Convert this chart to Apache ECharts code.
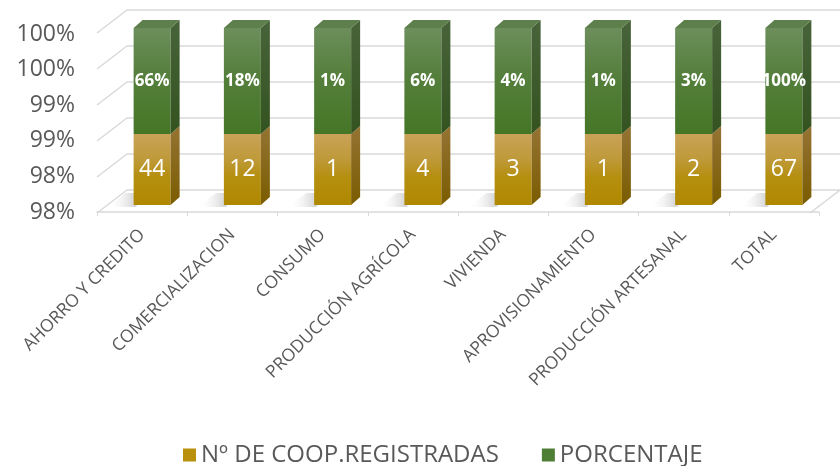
<!DOCTYPE html>
<html>
<head>
<meta charset="utf-8">
<script src="https://cdn.jsdelivr.net/npm/echarts@6/dist/echarts.min.js"></script>
<style>
html,body{margin:0;padding:0;background:#fff;}
#chart{width:840px;height:466px;}
</style>
</head>
<body>
<div id="chart"></div>
<script>
const categories = ['AHORRO Y CREDITO','COMERCIALIZACION','CONSUMO','PRODUCCIÓN AGRÍCOLA','VIVIENDA','APROVISIONAMIENTO','PRODUCCIÓN ARTESANAL','TOTAL'];
const coopCounts = [44, 12, 1, 4, 3, 1, 2, 67];
const percentValues = [65.67, 17.91, 1.49, 5.97, 4.48, 1.49, 2.99, 100];
const yTickValues = [0.98, 0.984, 0.988, 0.992, 0.996, 1.0];
const seriesNames = ['Nº DE COOP.REGISTRADAS', 'PORCENTAJE'];

const FONT = 'Open Sans';
const GRID_COLOR = '#d9d9d9';
const TEXT_COLOR = '#595959';
const BAR_W = 37, DX = 9, DY = -8;       // bar front width and 3D side depth
const WALL_DX = -30, WALL_DY = 23;        // back wall -> front plane offset

// share of each stack (100% stacked)
const goldData = categories.map((c, i) => [i, coopCounts[i] / (coopCounts[i] + percentValues[i]), coopCounts[i]]);
const greenData = categories.map((c, i) => [i, coopCounts[i] / (coopCounts[i] + percentValues[i]), Math.round(percentValues[i]) + '%']);

function vgrad(stops){
  return {type:'linear', x:0, y:0, x2:0, y2:1, colorStops: stops.map(s => ({offset:s[0], color:s[1]}))};
}
function hgrad(stops){
  return {type:'linear', x:0, y:0, x2:1, y2:0, colorStops: stops.map(s => ({offset:s[0], color:s[1]}))};
}

function renderGold(params, api){
  const i = api.value(0), share = api.value(1), cnt = api.value(2);
  const b = api.coord([i, 0]), m = api.coord([i, share]);
  const xl = b[0] - BAR_W/2, xr = b[0] + BAR_W/2;
  return {type:'group', children:[
    {type:'polygon', z2:0, shape:{points:[[xl-26, b[1]+2],[xl+2, b[1]+2],[xl+14, b[1]-12],[xl-8, b[1]-12]]},
      style:{fill: hgrad([[0,'rgba(255,255,255,0)'],[0.6,'rgba(170,170,170,0.4)'],[1,'rgba(140,140,140,0.6)']])}},
    {type:'rect', z2:2, shape:{x:xl, y:m[1], width:BAR_W, height:b[1]-m[1]},
      style:{fill: vgrad([[0,'#c9a258'],[0.35,'#bf9a3a'],[0.6,'#b58f10'],[1,'#b08800']])}},
    {type:'polygon', z2:2, shape:{points:[[xr, b[1]],[xr+DX, b[1]+DY],[xr+DX, m[1]+DY],[xr, m[1]]]},
      style:{fill: vgrad([[0,'#957434'],[1,'#7a5c00']])}},
    {type:'text', z2:5, style:{text:String(cnt), x:b[0], y:(b[1]+m[1])/2, align:'center', verticalAlign:'middle',
      fill:'#ffffff', fontSize:23, fontFamily:FONT}}
  ]};
}

function renderGreen(params, api){
  const i = api.value(0), share = api.value(1), lbl = api.value(2);
  const m = api.coord([i, share]), t = api.coord([i, 1]);
  const xl = m[0] - BAR_W/2, xr = m[0] + BAR_W/2;
  return {type:'group', children:[
    {type:'rect', z2:2, shape:{x:xl, y:t[1], width:BAR_W, height:m[1]-t[1]},
      style:{fill: vgrad([[0,'#6d8e5c'],[0.45,'#557f3c'],[1,'#457626']])}},
    {type:'polygon', z2:2, shape:{points:[[xr, m[1]],[xr+DX, m[1]+DY],[xr+DX, t[1]+DY],[xr, t[1]]]},
      style:{fill: vgrad([[0,'#48633a'],[1,'#33531f']])}},
    {type:'polygon', z2:2, shape:{points:[[xl, t[1]],[xr, t[1]],[xr+DX, t[1]+DY],[xl+DX, t[1]+DY]]},
      style:{fill:'#5d7f4b'}},
    {type:'text', z2:5, style:{text:String(lbl), x:m[0], y:(m[1]+t[1])/2, align:'center', verticalAlign:'middle',
      fill:'#ffffff', fontSize:17, fontWeight:'bold', fontFamily:FONT}}
  ]};
}

function renderWall(params, api){
  const v = api.value(0);
  const p = api.coord([0, v]);
  const children = [{type:'line', shape:{x1:p[0], y1:p[1], x2:p[0]+WALL_DX, y2:p[1]+WALL_DY},
    style:{stroke:GRID_COLOR, lineWidth:1.5}}];
  if (params.dataIndex === 0){
    const q = api.coord([1, v]);
    children.push({type:'line', shape:{x1:q[0], y1:q[1], x2:q[0]+WALL_DX, y2:q[1]+WALL_DY},
      style:{stroke:GRID_COLOR, lineWidth:1.5}});
  }
  return {type:'group', children};
}

const pctFmt = v => Math.round(v * 100) + '%';

const chart = echarts.init(document.getElementById('chart'), null, {renderer:'canvas'});
chart.setOption({
  backgroundColor:'#ffffff',
  animation:false,
  legend:{
    data: seriesNames,
    bottom: -6,
    left: 178,
    icon:'rect',
    itemWidth:13, itemHeight:13,
    itemGap:43,
    textStyle:{color:TEXT_COLOR, fontSize:24, fontFamily:FONT}
  },
  grid:[
    {left:97, top:34, width:722, height:178},   // front plane: labels
    {left:127, top:10, width:722, height:180},  // back wall
    {left:107, top:28, width:722, height:177}   // bars
  ],
  xAxis:[
    {gridIndex:0, type:'category', data:categories,
      axisLine:{show:true, lineStyle:{color:GRID_COLOR, width:1.5}},
      axisTick:{show:true, length:4, interval:0, lineStyle:{color:GRID_COLOR}},
      axisLabel:{rotate:45, margin:20, interval:0, color:TEXT_COLOR, fontSize:17.5, fontFamily:FONT}},
    {gridIndex:1, type:'value', min:0, max:1, show:false},
    {gridIndex:2, type:'category', data:categories, show:false}
  ],
  yAxis:[
    {gridIndex:0, type:'value', min:0.98, max:1.0, interval:0.004,
      axisLine:{show:false}, axisTick:{show:false}, splitLine:{show:false},
      axisLabel:{formatter:pctFmt, color:TEXT_COLOR, fontSize:23, fontFamily:FONT, margin:22}},
    {gridIndex:1, type:'value', min:0.98, max:1.0, interval:0.004,
      axisLine:{show:false}, axisTick:{show:false}, axisLabel:{show:false},
      splitLine:{show:true, lineStyle:{color:GRID_COLOR, width:1.5}}},
    {gridIndex:2, type:'value', min:0, max:1, show:false}
  ],
  series:[
    {type:'custom', name:'wall', xAxisIndex:1, yAxisIndex:1, data:yTickValues.map(v => [v]),
      encode:{y:0}, renderItem:renderWall, silent:true, z:1},
    {type:'custom', name:seriesNames[0], xAxisIndex:2, yAxisIndex:2, data:goldData,
      encode:{x:0, y:1}, renderItem:renderGold, itemStyle:{color:'#b8900c'}, z:3},
    {type:'custom', name:seriesNames[1], xAxisIndex:2, yAxisIndex:2, data:greenData,
      encode:{x:0, y:1}, renderItem:renderGreen, itemStyle:{color:'#4f7f34'}, z:3}
  ]
});
</script>
</body>
</html>
